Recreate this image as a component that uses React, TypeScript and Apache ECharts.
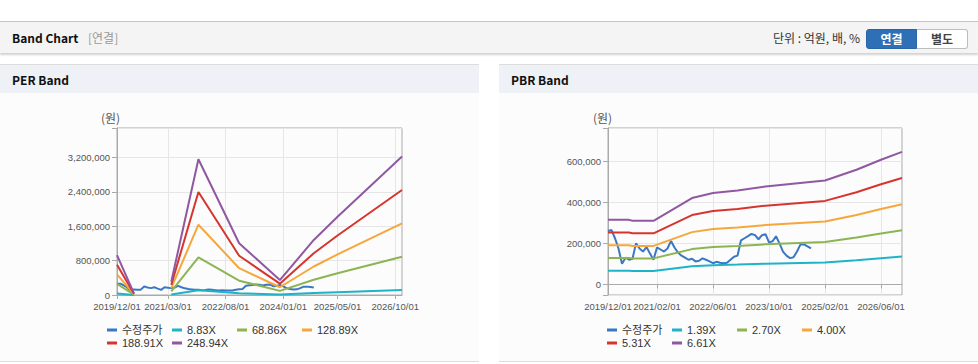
import React, { useEffect, useRef } from "react";
import * as echarts from "echarts";

// ---------- data ----------
const PER_TICKS = ["2019/12/01", "2021/03/01", "2022/08/01", "2024/01/01", "2025/05/01", "2026/10/01"];
const PBR_TICKS = ["2019/12/01", "2021/02/01", "2022/06/01", "2023/10/01", "2025/02/01", "2026/06/01"];

const PRICE_START = "2019/12/01";
// monthly adjusted price (원), 2019/12 .. 2024/10
const PRICE = [
  260000, 265000, 225000, 175000, 100000, 130000, 120000, 125000, 200000, 175000,
  160000, 182000, 150000, 120000, 180000, 170000, 160000, 175000, 212000, 180000,
  155000, 140000, 130000, 120000, 125000, 112000, 115000, 127000, 120000, 112000,
  103000, 110000, 105000, 103000, 105000, 120000, 135000, 140000, 215000, 225000,
  235000, 246000, 240000, 220000, 240000, 245000, 205000, 210000, 235000, 200000,
  160000, 140000, 128000, 132000, 160000, 195000, 195000, 185000, 175000,
];

const PER_MULTIPLES = [8.83, 68.86, 128.89, 188.91, 248.94];
const EPS_DATES = ["2019/12/01", "2020/05/01", "2020/06/01", "2021/04/01", "2021/12/01", "2022/12/01", "2023/12/01", "2024/10/01", "2025/05/01", "2026/12/01"];
const EPS_VALUES: (number | null)[] = [3740, 150, null, 1250, 12700, 4840, 1400, 5150, 7330, 12950];

const PBR_MULTIPLES = [1.39, 2.7, 4.0, 5.31, 6.61];
const BPS_DATES = ["2019/12/01", "2020/06/01", "2020/07/01", "2021/01/01", "2021/12/01", "2022/06/01", "2023/01/01", "2023/09/01", "2025/02/01", "2025/11/01", "2026/06/01", "2026/12/01"];
const BPS_VALUES = [47600, 47600, 46900, 46900, 63700, 67400, 69300, 72300, 76700, 84600, 92000, 97800];

const PRICE_NAME = "수정주가";
const COLORS = ["#3b78c4", "#1fb3c8", "#8cb552", "#f5a73b", "#d6352e", "#8f58a0"];

// monthly category axis 2019/12 .. 2026/12
const MONTHS: string[] = (() => {
  const out: string[] = [];
  for (let i = 0; i <= 84; i++) {
    const y = 2019 + Math.floor((11 + i) / 12);
    const m = ((11 + i) % 12) + 1;
    out.push(`${y}/${String(m).padStart(2, "0")}/01`);
  }
  return out;
})();

const startIdx = MONTHS.indexOf(PRICE_START);
const priceData = PRICE.map((v, i) => [MONTHS[startIdx + i], v]);

const fmt = (v: number) => v.toLocaleString("en-US");
const LABEL_FONT = "'Liberation Sans', Arial, 'Noto Sans CJK KR', sans-serif";

function buildOption() {
  const perNames = PER_MULTIPLES.map((m) => m.toFixed(2) + "X");
  const pbrNames = PBR_MULTIPLES.map((m) => m.toFixed(2) + "X");

  const mkX = (gridIndex: number, ticks: string[]) => {
    const f = (_i: number, v: string) => ticks.includes(v);
    return {
      type: "category",
      gridIndex,
      data: MONTHS,
      boundaryGap: false,
      axisLine: { show: true, lineStyle: { color: "#aaaaaa", width: 1 } },
      axisTick: { show: true, interval: f, length: 4, lineStyle: { color: "#aaaaaa" } },
      axisLabel: { interval: f, margin: 7, color: "#555", fontSize: 9.5, fontFamily: LABEL_FONT },
      splitLine: { show: true, interval: f, lineStyle: { color: "#e6e6e6", width: 1 } },
    };
  };
  const mkY = (gridIndex: number, step: number, extra: any) => ({
    type: "value",
    gridIndex,
    ...extra,
    axisLine: { show: true, lineStyle: { color: "#aaaaaa", width: 1 } },
    axisTick: { show: true, length: 5, lineStyle: { color: "#aaaaaa" } },
    axisLabel: {
      margin: 7,
      color: "#555",
      fontSize: 9.5,
      fontFamily: LABEL_FONT,
      formatter: (v: number) => (Math.abs(v % step) < 1e-6 ? fmt(v) : ""),
    },
    splitLine: { show: true, lineStyle: { color: "#e6e6e6", width: 1 } },
  });

  const line = (name: string, data: any[], color: string, xi: number) => ({
    type: "line",
    name,
    xAxisIndex: xi,
    yAxisIndex: xi,
    data,
    showSymbol: false,
    symbol: "none",
    connectNulls: false,
    lineStyle: { width: 2, color },
    itemStyle: { color },
    emphasis: { disabled: true },
  });

  const series: any[] = [];
  series.push(line(PRICE_NAME, priceData, COLORS[0], 0));
  PER_MULTIPLES.forEach((m, k) => {
    const data = EPS_DATES.map((d, i) => [d, EPS_VALUES[i] == null ? "-" : Math.round((EPS_VALUES[i] as number) * m)]);
    series.push(line(perNames[k], data, COLORS[k + 1], 0));
  });
  series.push(line(PRICE_NAME, priceData, COLORS[0], 1));
  PBR_MULTIPLES.forEach((m, k) => {
    const data = BPS_DATES.map((d, i) => [d, Math.round(BPS_VALUES[i] * m)]);
    series.push(line(pbrNames[k], data, COLORS[k + 1], 1));
  });

  const legendBase = {
    orient: "horizontal",
    top: 324,
    width: 262,
    itemWidth: 10,
    itemHeight: 3,
    itemGap: 1,
    icon: "rect",
    padding: 0,
    selectedMode: false,
    textStyle: { fontSize: 11, color: "#333", width: 49, lineHeight: 12, fontFamily: LABEL_FONT },
  };

  return {
    animation: false,
    backgroundColor: "transparent",
    grid: [
      { left: 117, top: 128, width: 285, height: 167, show: true, borderColor: "#aaaaaa", borderWidth: 1, backgroundColor: "transparent", containLabel: false, outerBoundsMode: "none" },
      { left: 608, top: 128, width: 294, height: 167, show: true, borderColor: "#aaaaaa", borderWidth: 1, backgroundColor: "transparent", containLabel: false, outerBoundsMode: "none" },
    ],
    xAxis: [mkX(0, PER_TICKS), mkX(1, PBR_TICKS)],
    yAxis: [
      mkY(0, 800000, { min: 0, max: 3890000, interval: 800000 }),
      mkY(1, 200000, { min: -52000, max: 763000, splitNumber: 4 }),
    ],
    legend: [
      { ...legendBase, left: 107, data: [PRICE_NAME, ...perNames] },
      { ...legendBase, left: 607, data: [PRICE_NAME, ...pbrNames] },
    ],
    graphic: [
      { type: "text", left: 101, top: 111, style: { text: "(원)", fontSize: 12, fill: "#555", fontFamily: "'Noto Sans CJK KR', sans-serif" } },
      { type: "text", left: 593, top: 111, style: { text: "(원)", fontSize: 12, fill: "#555", fontFamily: "'Noto Sans CJK KR', sans-serif" } },
    ],
    series,
  };
}

const UI_FONT = "'Noto Sans CJK KR', 'Noto Sans', sans-serif";

function Panel({ left, title }: { left: number; title: string }) {
  return (
    <div
      style={{
        position: "absolute",
        left,
        top: 64,
        width: 479,
        height: 298,
        borderTop: "1px solid #dcdcdc",
        borderBottom: "1px solid #dcdcdc",
        background: "#fcfcfc",
        boxSizing: "border-box",
      }}
    >
      <div style={{ height: 28, background: "#eef2f7", position: "relative" }}>
        <span
          style={{
            position: "absolute",
            left: 12,
            top: 0,
            lineHeight: "30px",
            fontWeight: 700,
            fontSize: 12,
            color: "#111",
            fontFamily: UI_FONT,
          }}
        >
          {title}
        </span>
      </div>
    </div>
  );
}

export default function App() {
  const ref = useRef<HTMLDivElement>(null);
  useEffect(() => {
    if (!ref.current) return;
    const chart = echarts.init(ref.current, null, { renderer: "svg" });
    chart.setOption(buildOption() as any);
    return () => chart.dispose();
  }, []);

  return (
    <div style={{ position: "absolute", left: 0, top: 0, width: 978, height: 364, background: "#fff", overflow: "hidden", fontFamily: UI_FONT }}>
      {/* header bar */}
      <div
        style={{
          position: "absolute",
          left: 0,
          top: 21,
          width: 978,
          height: 32,
          background: "#f4f4f4",
          borderTop: "1px solid #c4c4c4",
          boxShadow: "0 2px 2px rgba(0,0,0,0.18)",
          boxSizing: "border-box",
        }}
      >
        <span style={{ position: "absolute", left: 12, top: 0, lineHeight: "32px", fontSize: 12, fontWeight: 700, color: "#111" }}>Band Chart</span>
        <span style={{ position: "absolute", left: 88, top: 0, lineHeight: "32px", fontSize: 12, color: "#999" }}>[연결]</span>
        <span style={{ position: "absolute", right: 118, top: 0, lineHeight: "32px", fontSize: 12, color: "#333" }}>단위 : 억원, 배, %</span>
        <div
          style={{
            position: "absolute",
            left: 866,
            top: 7,
            width: 51,
            height: 20,
            background: "#2f6fb6",
            border: "1px solid #2a63a6",
            borderRadius: "3px 0 0 3px",
            boxSizing: "border-box",
            color: "#fff",
            fontSize: 12,
            fontWeight: 700,
            textAlign: "center",
            lineHeight: "18px",
          }}
        >
          연결
        </div>
        <div
          style={{
            position: "absolute",
            left: 917,
            top: 7,
            width: 51,
            height: 20,
            background: "#fff",
            border: "1px solid #bdbdbd",
            borderLeft: "none",
            borderRadius: "0 3px 3px 0",
            boxSizing: "border-box",
            color: "#444",
            fontSize: 12,
            fontWeight: 700,
            textAlign: "center",
            lineHeight: "18px",
          }}
        >
          별도
        </div>
      </div>

      <Panel left={0} title="PER Band" />
      <Panel left={499} title="PBR Band" />

      <div ref={ref} style={{ position: "absolute", left: 0, top: 0, width: 978, height: 364 }} />
    </div>
  );
}
